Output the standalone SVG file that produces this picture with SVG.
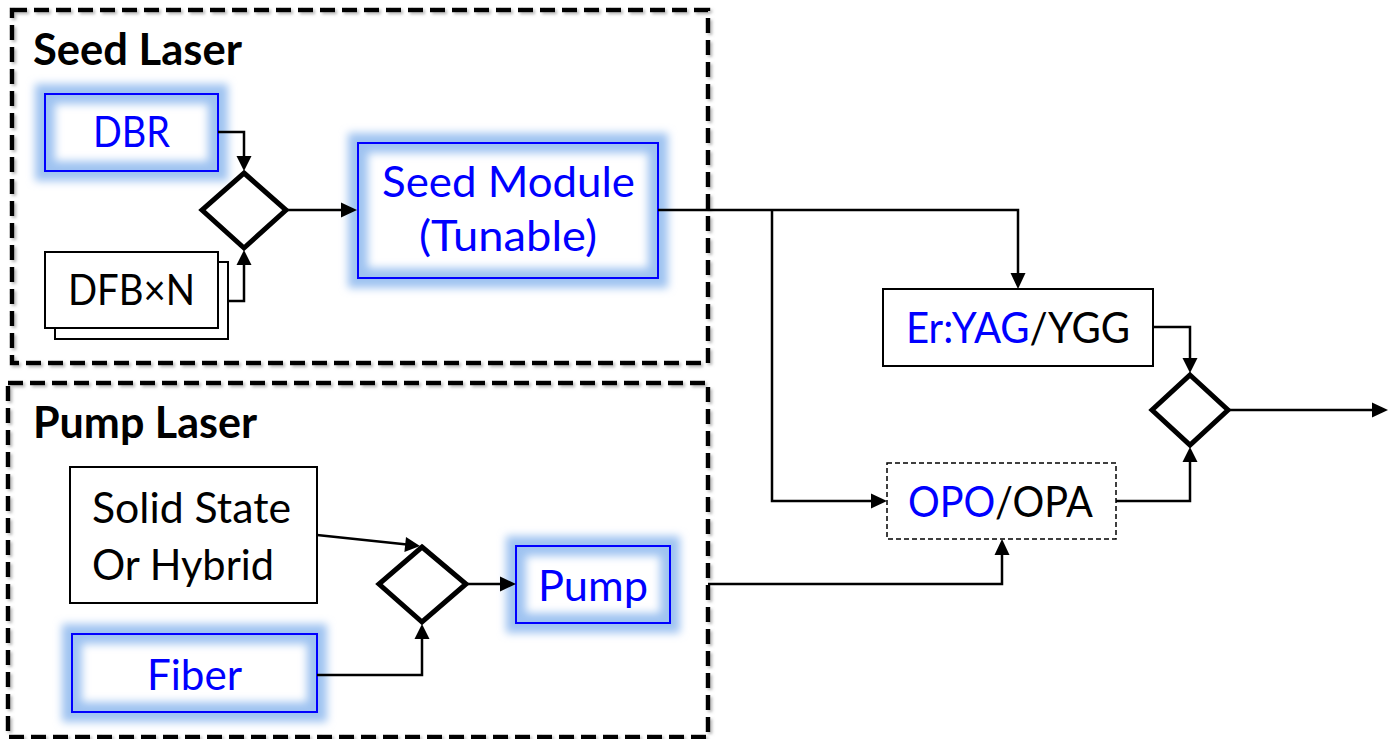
<svg xmlns="http://www.w3.org/2000/svg" width="1388" height="739" viewBox="0 0 1388 739">
<defs>
<style>
.grp{fill:none;stroke:#000;stroke-width:4.5;stroke-dasharray:15 7;filter:url(#shadow)}
.title{font-family:Lato,"Open Sans","Liberation Sans",sans-serif;font-weight:bold;font-size:44px;fill:#000}
.lbl{font-family:Lato,"Open Sans","Liberation Sans",sans-serif;font-size:42px;fill:#000}
.blue{fill:#0000ff}
.box{fill:#fff;stroke:#000;stroke-width:2}
.gbox{fill:#fff;stroke:#0000ff;stroke-width:2}
.glow{fill:none;stroke:#9fc3f1;stroke-width:20;filter:url(#blur)}
.dia{fill:#fff;stroke:#000;stroke-width:5;stroke-linejoin:miter}
.con{fill:none;stroke:#000;stroke-width:2.5}
.ah{fill:#000;stroke:none}
</style>
<filter id="blur" x="-25%" y="-50%" width="150%" height="200%"><feGaussianBlur stdDeviation="4.5"/></filter>
<filter id="shadow" x="-5%" y="-5%" width="110%" height="110%"><feDropShadow dx="2" dy="2" stdDeviation="1.5" flood-color="#888" flood-opacity="0.6"/></filter>
</defs>
<rect width="1388" height="739" fill="#fff"/>

<g id="seed-laser-group">
<rect class="grp" x="12" y="10" width="696" height="353"/>
<text class="title" x="33" y="65" textLength="209" lengthAdjust="spacingAndGlyphs">Seed Laser</text>
</g>
<g id="pump-laser-group">
<rect class="grp" x="8" y="383" width="700" height="354"/>
<text class="title" x="33" y="438" textLength="224" lengthAdjust="spacingAndGlyphs">Pump Laser</text>
</g>

<g id="dbr">
<rect class="gbox" x="45" y="94" width="173" height="77"/>
<rect class="glow" x="45" y="94" width="173" height="77"/>
<rect x="45" y="94" width="173" height="77" fill="none" stroke="#0000ff" stroke-width="2"/>
<text class="lbl blue" x="93" y="147" textLength="77" lengthAdjust="spacingAndGlyphs">DBR</text>
</g>

<g id="dfb">
<rect class="box" x="55" y="262" width="173" height="77"/>
<rect class="box" x="45" y="252" width="173" height="76"/>
<text class="lbl" x="68" y="305" textLength="127" lengthAdjust="spacingAndGlyphs">DFB×N</text>
</g>

<g id="combiner-seed">
<path class="dia" d="M244,173 L286,210 L244,248 L202,210 Z"/>
</g>

<g id="seed-module">
<rect class="gbox" x="358" y="143" width="300" height="135"/>
<rect class="glow" x="358" y="143" width="300" height="135"/>
<rect x="358" y="143" width="300" height="135" fill="none" stroke="#0000ff" stroke-width="2"/>
<text class="lbl blue" x="382" y="197" textLength="253" lengthAdjust="spacingAndGlyphs">Seed Module</text>
<text class="lbl blue" x="419" y="251" textLength="178" lengthAdjust="spacingAndGlyphs">(Tunable)</text>
</g>

<g id="er-yag">
<rect class="box" x="883" y="289" width="270" height="77"/>
<text class="lbl" x="906" y="343" textLength="224" lengthAdjust="spacingAndGlyphs"><tspan class="blue">Er:YAG</tspan>/YGG</text>
</g>

<g id="opo">
<rect x="887" y="463" width="229" height="76" fill="#fff" stroke="#000" stroke-width="1.5" stroke-dasharray="5 3"/>
<text class="lbl" x="908" y="517" textLength="185" lengthAdjust="spacingAndGlyphs"><tspan class="blue">OPO</tspan>/OPA</text>
</g>

<g id="combiner-out">
<path class="dia" d="M1190,375 L1228,410 L1190,445 L1152,410 Z"/>
</g>

<g id="solid-state">
<rect class="box" x="70" y="467" width="247" height="136"/>
<text class="lbl" x="92" y="523" textLength="199" lengthAdjust="spacingAndGlyphs">Solid State</text>
<text class="lbl" x="92" y="580" textLength="182" lengthAdjust="spacingAndGlyphs">Or Hybrid</text>
</g>

<g id="fiber">
<rect class="gbox" x="72" y="634" width="245" height="78"/>
<rect class="glow" x="72" y="634" width="245" height="78"/>
<rect x="72" y="634" width="245" height="78" fill="none" stroke="#0000ff" stroke-width="2"/>
<text class="lbl blue" x="147" y="690" textLength="95" lengthAdjust="spacingAndGlyphs">Fiber</text>
</g>

<g id="combiner-pump">
<path class="dia" d="M422,547 L466,584 L422,622 L379,584 Z"/>
</g>

<g id="pump">
<rect class="gbox" x="516" y="546" width="154" height="77"/>
<rect class="glow" x="516" y="546" width="154" height="77"/>
<rect x="516" y="546" width="154" height="77" fill="none" stroke="#0000ff" stroke-width="2"/>
<text class="lbl blue" x="538" y="601" textLength="110" lengthAdjust="spacingAndGlyphs">Pump</text>
</g>

<g id="connectors">
<path class="con" d="M218,132 H244 V158"/>
<polygon class="ah" points="236.5,156 251.5,156 244,171"/>
<path class="con" d="M228,301 H244 V265"/>
<polygon class="ah" points="236.5,265 251.5,265 244,250"/>
<path class="con" d="M286,210 H343"/>
<polygon class="ah" points="341,202.5 341,217.5 357,210"/>
<path class="con" d="M658,210 H1018 V275"/>
<polygon class="ah" points="1010.5,273 1025.5,273 1018,289"/>
<path class="con" d="M772,210 V501 H873"/>
<polygon class="ah" points="871,493.5 871,508.5 887,501"/>
<path class="con" d="M1153,327 H1190 V360"/>
<polygon class="ah" points="1182.5,358 1197.5,358 1190,373"/>
<path class="con" d="M1116,501 H1190 V462"/>
<polygon class="ah" points="1182.5,462 1197.5,462 1190,447"/>
<path class="con" d="M1228,410 H1374"/>
<polygon class="ah" points="1372,402.5 1372,417.5 1388,410"/>
<path class="con" d="M317,535 L407,544.5"/>
<polygon class="ah" points="406,537 404.4,551.9 420,546"/>
<path class="con" d="M317,675 H422 V638"/>
<polygon class="ah" points="414.5,639 429.5,639 422,624"/>
<path class="con" d="M466,584 H502"/>
<polygon class="ah" points="500,576.5 500,591.5 516,584"/>
<path class="con" d="M708,584 H1002 V553"/>
<polygon class="ah" points="994.5,555 1009.5,555 1002,539"/>
</g>
</svg>
